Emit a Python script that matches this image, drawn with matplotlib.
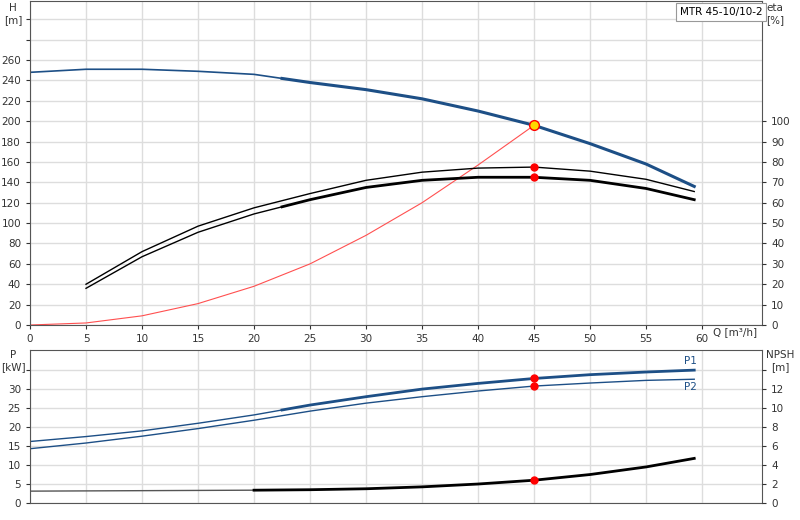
import matplotlib
matplotlib.use("Agg")
import matplotlib.pyplot as plt
import numpy as np

Q = [0, 5, 10, 15, 20, 22.5, 25, 30, 35, 40, 45, 50, 55, 59.3]
H = [248, 251, 251, 249, 246, 242, 238, 231, 222, 210, 196, 178, 158, 136]
Qe = [5, 10, 15, 20, 22.5, 25, 30, 35, 40, 45, 50, 55, 59.3]
eta_hi = [20, 36, 48.5, 57.5, 61, 64.5, 71, 75, 77, 77.5, 75.5, 71.5, 65.5]
eta_lo = [18, 33.5, 45.5, 54.5, 58, 61.5, 67.5, 71, 72.5, 72.5, 71, 67, 61.5]
Qs = [0, 5, 10, 15, 20, 25, 30, 35, 40, 45]
Hs = [0, 2, 9, 21, 38, 60, 88, 120, 157, 196]
P1 = [16.2, 17.5, 19, 21, 23.2, 24.5, 25.8, 28, 30, 31.5, 32.8, 33.8, 34.5, 35]
P2 = [14.3, 15.8, 17.6, 19.6, 21.8, 23, 24.2, 26.3, 28, 29.5, 30.8, 31.6, 32.3, 32.6]
Qn = [0, 10, 20, 25, 30, 35, 40, 45, 50, 55, 59.3]
NPSH = [1.25, 1.3, 1.35, 1.4, 1.5, 1.7, 2.0, 2.4, 3.0, 3.8, 4.7]
Qop = 45
title = "MTR 45-10/10-2"

blue = "#1d4f86"
W, Hf = 800, 520
fig = plt.figure(figsize=(8, 5.2), dpi=100)
ax1 = fig.add_axes([30/W, 1-325/Hf, 732/W, 324/Hf])
ax2 = fig.add_axes([30/W, 1-503/Hf, 732/W, 153/Hf])

xmax = 65.35
def style(ax):
    ax.set_xlim(0, xmax)
    ax.set_xticks(range(0, 61, 5))
    ax.grid(True, color="#dddddd", lw=1)
    ax.set_axisbelow(True)
    for s in ax.spines.values():
        s.set_color("#555555"); s.set_linewidth(0.8)
    ax.tick_params(labelsize=7.5, colors="#333333", length=3)

style(ax1)
ax1.set_ylim(0, 318)
ax1.set_yticks(range(0, 301, 20))
ax1.set_yticklabels([str(v) if v <= 260 else "" for v in range(0, 301, 20)])
ax1.set_xticklabels([str(v) for v in range(0, 61, 5)])
r1 = ax1.twinx()
r1.set_ylim(0, 159)
r1.set_yticks(range(0, 101, 10))
r1.tick_params(labelsize=7.5, colors="#333333", length=3)
for s in r1.spines.values():
    s.set_visible(False)

i0 = 5
ax1.plot(Q[:i0+1], H[:i0+1], color=blue, lw=1.2)
ax1.plot(Q[i0:], H[i0:], color=blue, lw=2.2)
r1.plot(Qe, eta_hi, color="black", lw=1.0)
r1.plot(Qe[:5], eta_lo[:5], color="black", lw=1.0)
r1.plot(Qe[4:], eta_lo[4:], color="black", lw=2.0)
ax1.plot(Qs, Hs, color="#ff5050", lw=0.8)
r1.plot([Qop, Qop], [eta_hi[9], eta_lo[9]], "o", color="red", ms=5, zorder=5)
ax1.plot([Qop], [H[10]], "o", color="#ffd800", mec="red", ms=7, zorder=6)
fig.text(13/W, 1-3/Hf, "H\n[m]", fontsize=7.5, ha="center", va="top", color="#333333")
fig.text(775/W, 1-3/Hf, "eta\n[%]", fontsize=7.5, ha="center", va="top", color="#333333")
ax1.text(61.7, 312, title, fontsize=7.5, ha="center", va="top",
         bbox=dict(boxstyle="square,pad=0.35", fc="white", ec="#999999", lw=0.8))
ax1.text(61.0, -7, "Q [m³/h]", fontsize=7.5, va="center", color="#333333")

style(ax2)
ax2.set_ylim(0, 40.3)
ax2.set_yticks(range(0, 36, 5))
ax2.set_yticklabels([str(v) if v <= 30 else "" for v in range(0, 36, 5)])
ax2.set_xticklabels([])
ax2.tick_params(axis="x", length=0)
r2 = ax2.twinx()
r2.set_ylim(0, 40.3/2.5)
r2.set_yticks(range(0, 15, 2))
r2.set_yticklabels([str(v) if v <= 12 else "" for v in range(0, 15, 2)])
r2.tick_params(labelsize=7.5, colors="#333333", length=3)
for s in r2.spines.values():
    s.set_visible(False)
ax2.plot(Q[:i0+1], P1[:i0+1], color=blue, lw=1.0)
ax2.plot(Q[i0:], P1[i0:], color=blue, lw=2.0)
ax2.plot(Q, P2, color=blue, lw=1.0)
r2.plot(Qn[:3], NPSH[:3], color="#555555", lw=1.0)
r2.plot(Qn[2:], NPSH[2:], color="black", lw=2.0)
ax2.plot([Qop, Qop], [P1[10], P2[10]], "o", color="red", ms=5, zorder=5)
r2.plot([Qop], [NPSH[7]], "o", color="red", ms=5, zorder=5)
ax2.text(59.0, 36.0, "P1", color=blue, fontsize=7.5, va="bottom", ha="center")
ax2.text(59.0, 32.0, "P2", color=blue, fontsize=7.5, va="top", ha="center")
fig.text(13/W, 1-350/Hf, "P\n[kW]", fontsize=7.5, ha="center", va="top", color="#333333")
fig.text(780/W, 1-350/Hf, "NPSH\n[m]", fontsize=7.5, ha="center", va="top", color="#333333")

fig.savefig("out.png", dpi=100)
